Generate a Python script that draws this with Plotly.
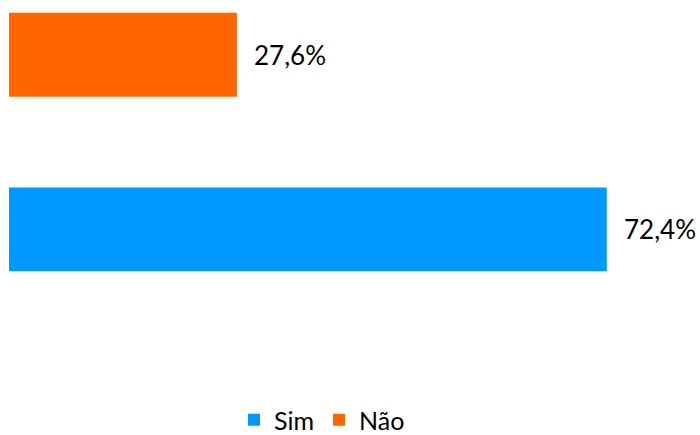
import plotly.graph_objects as go

categories = ["Sim", "Não"]
values = [72.4, 27.6]
colors = ["#0099FF", "#FF6600"]

fig = go.Figure()
for cat, val, col in zip(categories, values, colors):
    fig.add_trace(go.Bar(
        x=[val], y=[cat], name=cat, orientation="h",
        marker=dict(color=col, line=dict(width=0)),
        width=0.48, showlegend=True,
    ))
    fig.add_annotation(
        x=val, y=cat, text=f"{val:.1f}%".replace(".", ","),
        showarrow=False, xanchor="left", xshift=15,
        font=dict(family="Lato", size=26, color="#000000"),
    )

fig.update_layout(
    width=700, height=435,
    margin=dict(l=9, r=9, t=0, b=35),
    paper_bgcolor="white", plot_bgcolor="white",
    barmode="overlay",
    separators=",.",
    xaxis=dict(range=[0, 82.6], visible=False),
    yaxis=dict(type="category", categoryarray=categories, range=[-0.959, 1.313], visible=False),
    legend=dict(orientation="h", xref="container", yref="container",
                x=234 / 700, xanchor="left", y=15 / 435, yanchor="middle",
                font=dict(family="Lato", size=25, color="#000000"),
                itemwidth=30, traceorder="normal"),
    font=dict(family="Lato"),
)
fig.write_html("out.html", config={"displayModeBar": False},
               post_script="document.body.style.margin='0';document.body.style.overflow='hidden';")
